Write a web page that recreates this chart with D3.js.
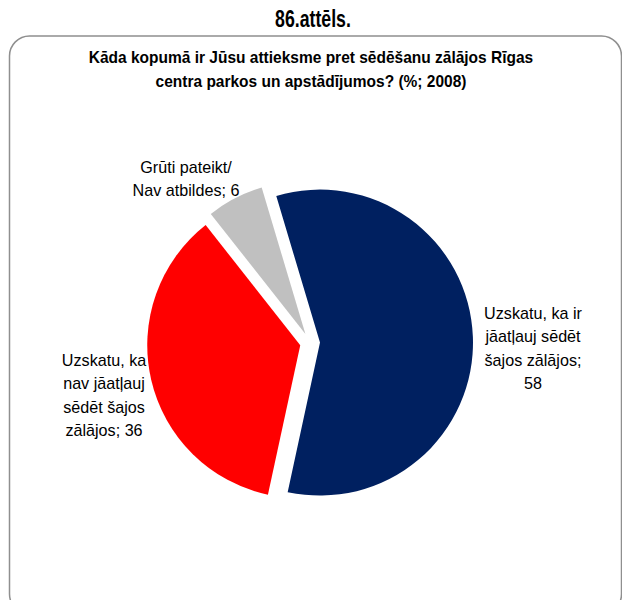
<!DOCTYPE html>
<html>
<head>
<meta charset="utf-8">
<script src="https://cdn.jsdelivr.net/npm/d3@7"></script>
<style>
html,body{margin:0;padding:0;background:#fff;}
svg{display:block;}
text{font-family:"Liberation Sans Narrow","Arial Narrow","Liberation Sans",Arial,sans-serif;fill:#000;}
</style>
</head>
<body>
<svg id="chart" width="622" height="600"></svg>
<script>
// ---- data ----
const categories = [
  "Uzskatu, ka ir jāatļauj sēdēt šajos zālājos",
  "Uzskatu, ka nav jāatļauj sēdēt šajos zālājos",
  "Grūti pateikt/ Nav atbildes"
];
const values = [58, 36, 6];
const colors = ["#002060", "#FF0000", "#C0C0C0"];
const labelLines = [
  ["Uzskatu, ka ir", "jāatļauj sēdēt", "šajos zālājos;", "58"],
  ["Uzskatu, ka", "nav jāatļauj", "sēdēt šajos", "zālājos; 36"],
  ["Grūti pateikt/", "Nav atbildes;  6"]
];
const figTitle = "86.attēls.";
const chartTitle = ["Kāda kopumā ir Jūsu attieksme pret sēdēšanu zālājos Rīgas",
                    "centra parkos un apstādījumos? (%; 2008)"];

// ---- layout ----
const cx = 310, cy = 343, R = 153, explode = 10;
const startDeg = -16.6;
const labelPos = [
  {dx: 223, dy: -24},
  {dx: -206, dy: 23},
  {dx: -124, dy: -170}
];
const lineH = 23.5;

const svg = d3.select("#chart");

// frame
svg.append("rect")
  .attr("x", 9.5).attr("y", 36).attr("width", 612).attr("height", 578)
  .attr("rx", 20).attr("ry", 20)
  .attr("fill", "#fff").attr("stroke", "#8f8f8f").attr("stroke-width", 1.5);

// figure title
svg.append("text")
  .attr("transform", "translate(313,27) scale(0.77,1)")
  .attr("text-anchor", "middle")
  .style("font-size", "23px").style("font-weight", "bold")
  .text(figTitle);

// chart title
svg.append("g").selectAll("text").data(chartTitle).join("text")
  .attr("transform", (d, i) => `translate(311,${63 + i * 23.5}) scale(0.94,1)`)
  .attr("text-anchor", "middle")
  .style("font-size", "16.5px").style("font-weight", "bold")
  .text(d => d);

// pie
const start = startDeg * Math.PI / 180;
const pie = d3.pie().sort(null).value(d => d).startAngle(start).endAngle(start + 2 * Math.PI);
const arc = d3.arc().innerRadius(0).outerRadius(R);
const arcs = pie(values);

const g = svg.append("g").attr("transform", `translate(${cx},${cy})`);
g.selectAll("path").data(arcs).join("path")
  .attr("d", arc)
  .attr("fill", (d, i) => colors[i])
  .attr("transform", d => {
    const m = (d.startAngle + d.endAngle) / 2;
    return `translate(${Math.sin(m) * explode},${-Math.cos(m) * explode})`;
  });

// labels
const lg = svg.append("g").attr("transform", `translate(${cx},${cy})`);
arcs.forEach((a, i) => {
  const p = labelPos[i];
  const t = lg.append("text")
    .attr("transform", `translate(${p.dx},${p.dy}) scale(0.95,1)`)
    .attr("text-anchor", "middle")
    .style("font-size", "17px");
  labelLines[i].forEach((line, k) => {
    t.append("tspan")
      .attr("x", 0)
      .attr("y", k * lineH)
      .text(line);
  });
});
</script>
</body>
</html>
